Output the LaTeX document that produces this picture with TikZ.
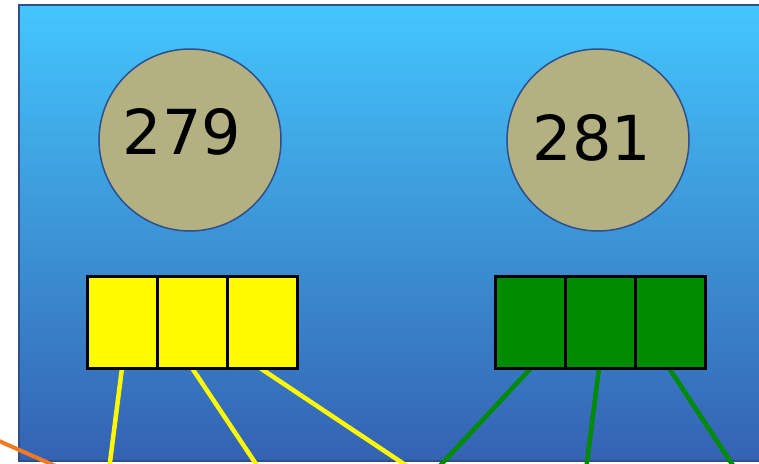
\documentclass[tikz,border=0pt]{standalone}
\usepackage{fontspec}
\setmainfont{DejaVu Sans}
\usetikzlibrary{positioning, calc}

\definecolor{skytop}{RGB}{68,198,252}
\definecolor{skybot}{RGB}{52,98,178}
\definecolor{rimblue}{RGB}{47,78,140}
\definecolor{khaki}{RGB}{179,176,130}
\definecolor{leafgreen}{RGB}{0,140,0}
\definecolor{lemon}{RGB}{255,250,0}
\definecolor{tangerine}{RGB}{244,122,32}

\begin{document}
\begin{tikzpicture}[
    x=1pt, y=-1pt,
    coin/.style={
        circle, draw=rimblue, line width=1.5pt, fill=khaki,
        minimum size=182pt, inner sep=0pt
    },
    num/.style={font=\fontsize{62}{62}\selectfont, inner sep=0pt},
    cell/.style={
        draw=black, line width=3.5pt,
        minimum width=70pt, minimum height=92pt,
        inner sep=0pt, outer sep=0pt
    },
    ylink/.style={lemon, line width=4.5pt},
    glink/.style={leafgreen, line width=4.5pt}
]
    \useasboundingbox (0,0) rectangle (759,463);
    \clip (0,0) rectangle (759,463);

    % background panel
    \shade[top color=skytop, bottom color=skybot, draw=rimblue, line width=1.5pt]
        (19,5) rectangle (790,461);

    % coins
    \node[coin] (c279) at (190,140) {};
    \node[num] (t279) at ($(c279)+(-8,-8)$) {279};
    \node[coin] (c281) at (598,140) {};
    \node[num] (t281) at ($(c281)+(-6,-2)$) {281};

    % free ends at the bottom
    \coordinate (y1) at (109,470);
    \coordinate (y2) at (260,470);
    \coordinate (y3) at (413,470);
    \coordinate (g1) at (436,470);
    \coordinate (g2) at (586,470);
    \coordinate (g3) at (736,470);
    \coordinate (o1) at (-10,437);
    \coordinate (o2) at (60,468);

    % cell links (drawn under the cells)
    \coordinate (ya) at (122,368);
    \coordinate (yb) at (192,368);
    \coordinate (yc) at (260,368);
    \coordinate (ga) at (531,368);
    \coordinate (gb) at (599,368);
    \coordinate (gc) at (669,368);
    \draw[ylink] (ya) -- (y1);
    \draw[ylink] (yb) -- (y2);
    \draw[ylink] (yc) -- (y3);
    \draw[glink] (ga) -- (g1);
    \draw[glink] (gb) -- (g2);
    \draw[glink] (gc) -- (g3);

    % yellow cells
    \node[cell, fill=lemon] (ya1) at (122.5,322.5) {};
    \node[cell, fill=lemon, right=0pt of ya1] (ya2) {};
    \node[cell, fill=lemon, right=0pt of ya2] (ya3) {};

    % green cells
    \node[cell, fill=leafgreen] (gr1) at (530.5,322.5) {};
    \node[cell, fill=leafgreen, right=0pt of gr1] (gr2) {};
    \node[cell, fill=leafgreen, right=0pt of gr2] (gr3) {};

    \draw[tangerine, line width=4pt] (o1) -- (o2);
\end{tikzpicture}
\end{document}
